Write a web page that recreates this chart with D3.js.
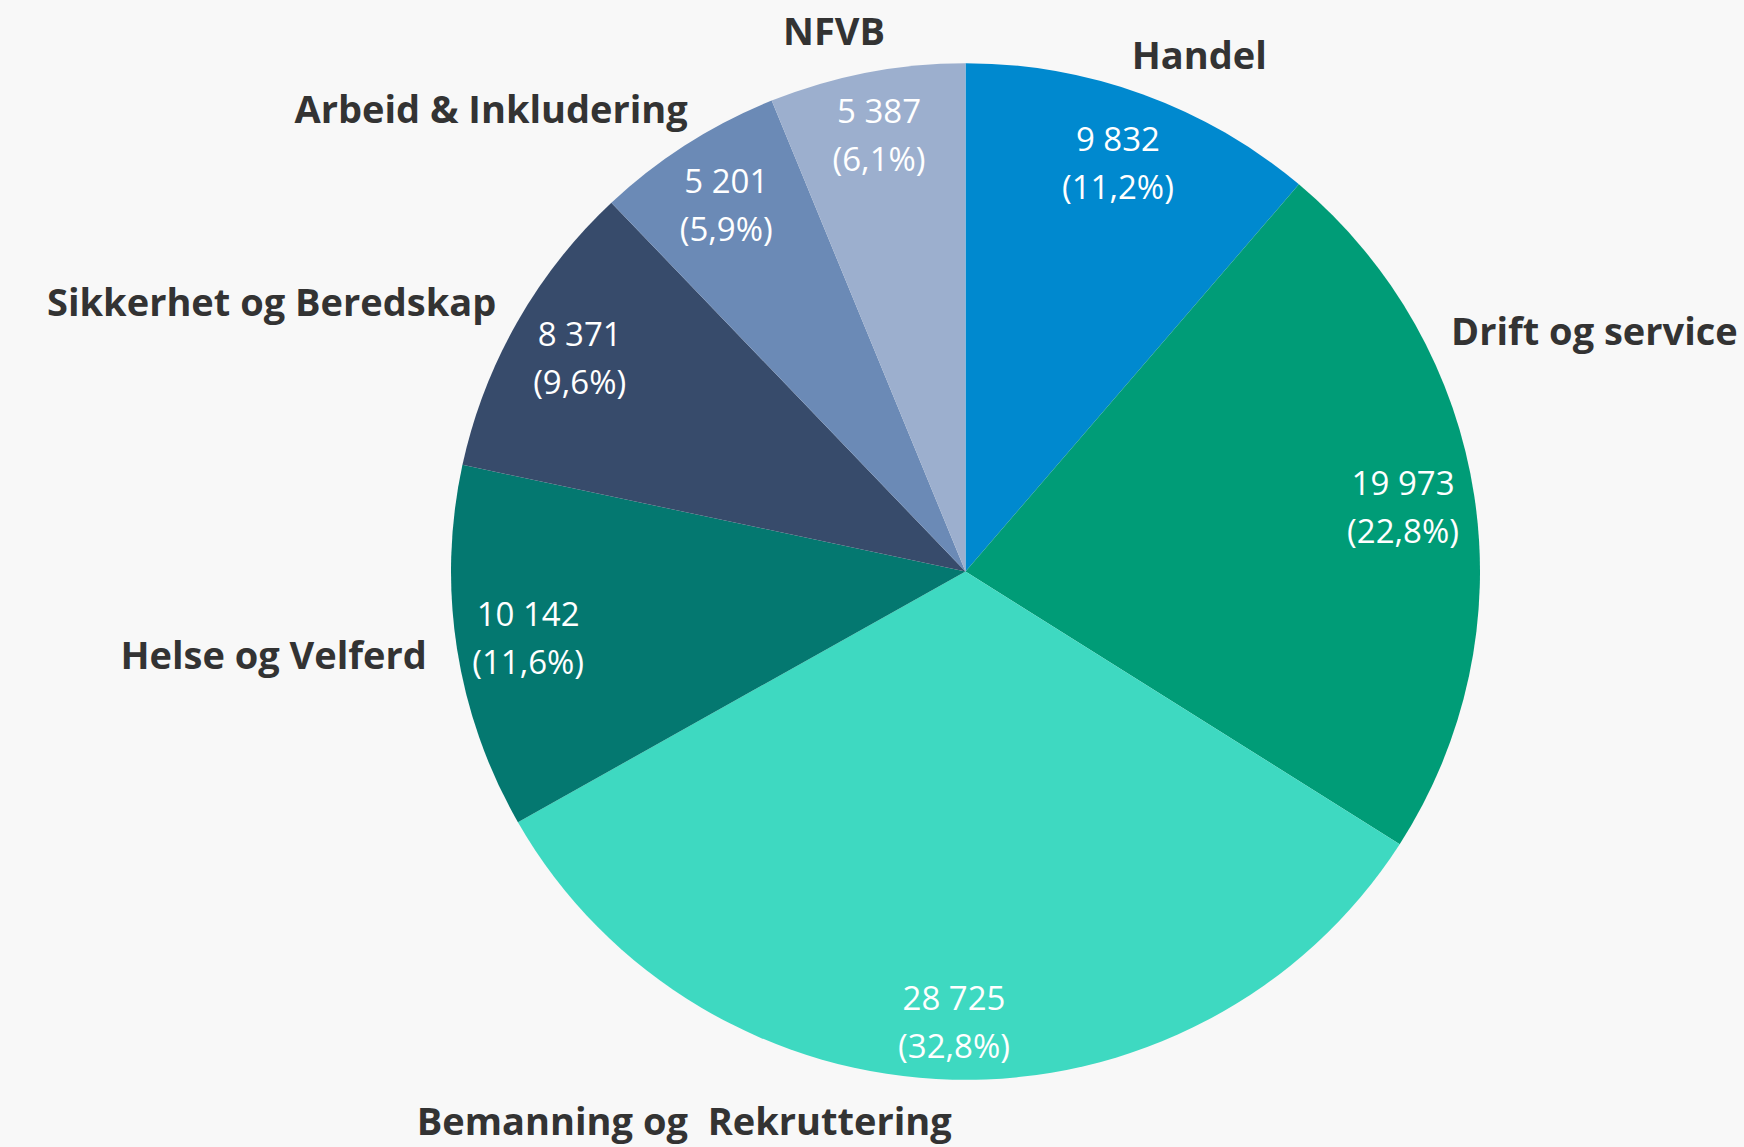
<!DOCTYPE html>
<html>
<head>
<meta charset="utf-8">
<script src="https://cdn.jsdelivr.net/npm/d3@7"></script>
<style>
  body { margin: 0; background: #f8f8f8; }
  svg { display: block; }
</style>
</head>
<body>
<script>
// slices, clockwise from 12 o'clock
var categories = ["Handel", "Drift og service", "Bemanning og  Rekruttering", "Helse og Velferd",
                  "Sikkerhet og Beredskap", "Arbeid & Inkludering", "NFVB"];
var values = [9832, 19973, 28725, 10142, 8371, 5201, 5387];
var colors = ["#0089cf", "#009c77", "#3ed9c1", "#047870", "#374b6b", "#6b8ab6", "#9cafce"];

var w = 1744, h = 1147;
var cx = 965.5, cy = 571.5, radius = 514.5;
var squash = 0.988;   // the source picture is a touch flatter than round

var nb = d3.formatLocale({decimal: ",", thousands: " ", grouping: [3], currency: ["", " kr"]});
var fmtNum = nb.format(",d");
var fmtPct = nb.format(".1%");

var total = d3.sum(values);

var svg = d3.select("body")
            .append("svg")
            .attr("width", w)
            .attr("height", h)
            .style("background", "#f8f8f8");

var pie = d3.pie().sort(null).value(function(d) { return d; });
var arcs = pie(values);

var arc = d3.arc().innerRadius(0).outerRadius(radius);

// slices
svg.append("g")
   .attr("transform", "translate(" + cx + "," + cy + ") scale(1," + squash + ")")
   .selectAll("path.slice")
   .data(arcs)
   .enter()
   .append("path")
   .attr("class", "slice")
   .attr("d", arc)
   .style("fill", function(d, i) { return colors[i]; });

// value labels inside, pushed out as far as the box fits
var pad = 8;
var inner = svg.selectAll("g.val")
               .data(arcs)
               .enter()
               .append("g")
               .attr("class", "val")
               .style("font-family", "'Open Sans', 'Segoe UI', sans-serif")
               .style("font-size", "33px")
               .style("fill", "#ffffff")
               .style("text-anchor", "middle");

inner.append("text").attr("y", -16).text(function(d) { return fmtNum(d.value); });
inner.append("text").attr("y", 32).text(function(d) { return "(" + fmtPct(d.value / total) + ")"; });

inner.each(function(d) {
  var box = this.getBBox();
  var hw = box.width / 2, hh = box.height / 2;
  var oy = box.y + hh;
  var mid = (d.startAngle + d.endAngle) / 2;
  var sx = Math.sin(mid), sy = -Math.cos(mid);
  var dist = radius;
  for (; dist > 0; dist -= 1) {
    var px = sx * dist, py = sy * dist;
    var far = Math.max(
      Math.hypot(px - hw, py - hh), Math.hypot(px + hw, py - hh),
      Math.hypot(px - hw, py + hh), Math.hypot(px + hw, py + hh));
    if (far <= radius - pad) break;
  }
  d3.select(this).attr("transform",
    "translate(" + (cx + sx * dist) + "," + (cy + sy * dist * squash - oy) + ")");
});

// category labels outside, on a ring, slid along it to stay on the page
var ringX = 545, ringY = 550;
var pullIn = 25;   // top labels sit a little closer to the middle
var margin = 6;
var outer = svg.selectAll("text.cat")
               .data(arcs)
               .enter()
               .append("text")
               .attr("class", "cat")
               .style("font-family", "'Open Sans', 'Segoe UI', sans-serif")
               .style("font-weight", "bold")
               .style("font-size", "38px")
               .style("fill", "#333333")
               .style("white-space", "pre")
               .attr("dy", "0.36em")
               .text(function(d, i) { return categories[i]; });

outer.each(function(d) {
  var tw = this.getComputedTextLength();
  var a = (d.startAngle + d.endAngle) / 2;
  var right = Math.sin(a) >= 0;
  var step = (Math.cos(a) >= 0 ? -1 : 1) * 0.002;
  if (!right) step = -step;
  var x, y;
  for (var k = 0; k < 800; k++) {
    var c = Math.cos(a);
    var shift = c > 0 ? pullIn * c * c : 0;
    x = cx + Math.sin(a) * ringX + (right ? -shift : shift);
    y = cy - c * ringY;
    if (right && x + tw <= w - margin) break;
    if (!right && x - tw >= margin) break;
    a += step;
  }
  d3.select(this)
    .attr("x", x)
    .attr("y", y)
    .style("text-anchor", right ? "start" : "end");
});
</script>
</body>
</html>
